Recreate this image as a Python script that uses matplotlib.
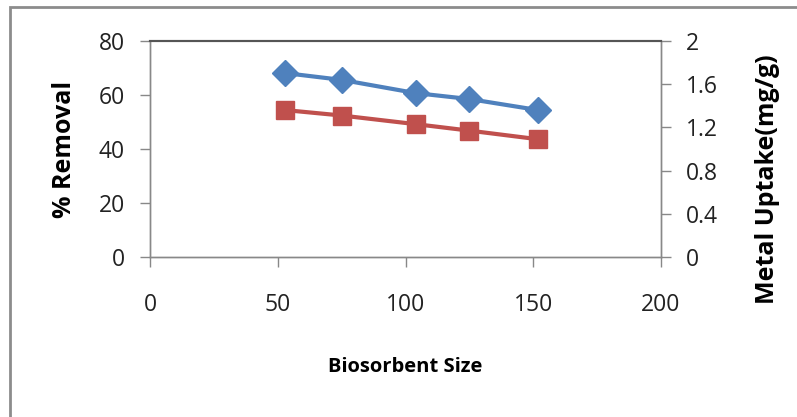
import matplotlib.pyplot as plt
from matplotlib.patches import Rectangle

plt.rcParams['font.family'] = ['Open Sans', 'DejaVu Sans']

# data
size = [53, 75, 104, 125, 152]
removal = [68.1, 65.6, 60.7, 58.5, 54.4]          # % removal, left axis
uptake = [1.36, 1.31, 1.23, 1.17, 1.09]           # mg/g, right axis

xticks = [0, 50, 100, 150, 200]
yticks_left = [0, 20, 40, 60, 80]
yticks_right = [0, 0.4, 0.8, 1.2, 1.6, 2]
yticks_right_lbl = ['0', '0.4', '0.8', '1.2', '1.6', '2']

blue = '#4F81BD'
red = '#C0504D'
grey = '#888888'

fig = plt.figure(figsize=(7.97, 4.17), dpi=100)
ax = fig.add_axes([0.1882, 0.3837, 0.6412, 0.518])
ax2 = ax.twinx()

# outer chart border (left and top visible)
fig.patches.append(Rectangle((10 / 797, -0.1), 1.2, 1 - 7 / 417 + 0.1,
                             transform=fig.transFigure, fill=False,
                             edgecolor='#8c8c8c', linewidth=2.0))

ax.plot(size, removal, color=blue, lw=3, marker='D', ms=13, zorder=3)
ax2.plot(size, uptake, color=red, lw=3, marker='s', ms=13, zorder=3)

ax.set_xlim(0, 200)
ax.set_ylim(0, 80)
ax2.set_ylim(0, 2)
ax.set_xticks(xticks)
ax.set_yticks(yticks_left)
ax2.set_yticks(yticks_right)
ax2.set_yticklabels(yticks_right_lbl)

for a in (ax, ax2):
    for s in a.spines.values():
        s.set_color(grey)
        s.set_linewidth(1.0)
    a.spines['top'].set_color('#555555')
    a.spines['top'].set_linewidth(1.5)
    a.tick_params(colors=grey, labelcolor='#222222', labelsize=16.5, length=7, width=1)

ax.tick_params(axis='y', pad=11)
ax.tick_params(axis='x', pad=19)
ax2.tick_params(axis='y', pad=11)

ax.set_xlabel('Biosorbent Size', fontsize=14.5, fontweight='bold', labelpad=29)
ax.set_ylabel('% Removal', fontsize=18, fontweight='bold', labelpad=16)
ax2.set_ylabel('Metal Uptake(mg/g)', fontsize=18, fontweight='bold')
ax2.yaxis.set_label_coords(1.183, 0.36)

fig.savefig('out.png', dpi=100)
